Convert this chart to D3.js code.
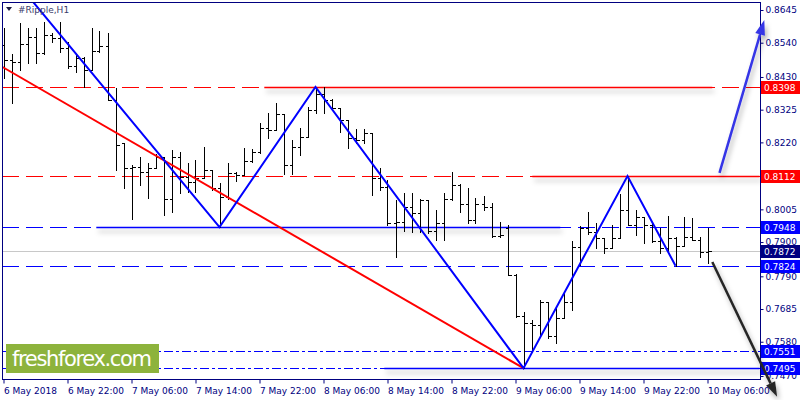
<!DOCTYPE html>
<html><head><meta charset="utf-8">
<script src="https://cdn.jsdelivr.net/npm/d3@7"></script>
<style>
body{margin:0;background:#fff;}
svg{display:block;}
text{font-family:"DejaVu Sans",sans-serif;font-size:9px;}
</style>
</head><body>
<svg id="c" width="800" height="400"></svg>
<script>
// ---------- data ----------
const symbolTitle = "#Ripple,H1";
const timeLabels = ["6 May 2018","6 May 22:00","7 May 06:00","7 May 14:00","7 May 22:00","8 May 06:00","8 May 14:00","8 May 22:00","9 May 06:00","9 May 14:00","9 May 22:00","10 May 06:00"];
const timeLabelBars = [0,8,16,24,32,40,48,56,64,72,80,88];
const priceTicks = [0.8645,0.8540,0.8430,0.8325,0.8220,0.8005,0.7900,0.7790,0.7685,0.7580,0.7470];

const opens  = [0.8533,0.8485,0.8478,0.8536,0.8558,0.8507,0.8565,0.8555,0.8523,0.8465,0.8491,0.8452,0.8513,0.8529,0.8356,0.8218,0.8138,0.8141,0.8125,0.8138,0.8173,0.8038,0.8173,0.8109,0.8093,0.8106,0.8131,0.8074,0.8045,0.8122,0.8115,0.8160,0.8189,0.8266,0.8260,0.8311,0.8147,0.8205,0.8237,0.8324,0.8375,0.8356,0.8330,0.8292,0.8234,0.8228,0.8250,0.8106,0.8077,0.7961,0.7964,0.8013,0.7993,0.8035,0.7936,0.7961,0.8038,0.8083,0.8022,0.7971,0.8022,0.8013,0.7920,0.7945,0.7794,0.7663,0.7640,0.7634,0.7708,0.7598,0.7656,0.7708,0.7884,0.7945,0.7932,0.7913,0.7881,0.7913,0.8003,0.7955,0.7981,0.7955,0.7904,0.7881,0.7913,0.7887,0.7916,0.7907,0.7868];
const highs  = [0.8587,0.8504,0.8603,0.8587,0.8587,0.8606,0.8571,0.8606,0.8542,0.8504,0.8494,0.8587,0.8578,0.8571,0.8395,0.8218,0.8147,0.8173,0.8154,0.8183,0.8173,0.8196,0.8189,0.8154,0.8164,0.8205,0.8131,0.8090,0.8154,0.8125,0.8202,0.8199,0.8282,0.8314,0.8346,0.8311,0.8228,0.8266,0.8334,0.8398,0.8398,0.8359,0.8330,0.8292,0.8263,0.8263,0.8250,0.8138,0.8100,0.8035,0.8058,0.8058,0.8038,0.8035,0.8003,0.8058,0.8125,0.8087,0.8074,0.8041,0.8048,0.8025,0.7964,0.7955,0.7798,0.7676,0.7650,0.7714,0.7708,0.7692,0.7740,0.7904,0.7952,0.7997,0.7961,0.7913,0.7955,0.8054,0.8112,0.8003,0.7981,0.7961,0.7945,0.7984,0.7916,0.7981,0.7977,0.7916,0.7945];
const lows   = [0.8427,0.8346,0.8452,0.8475,0.8475,0.8504,0.8542,0.8510,0.8459,0.8446,0.8398,0.8452,0.8510,0.8356,0.8131,0.8074,0.7974,0.8083,0.8041,0.8138,0.7987,0.7997,0.8058,0.8061,0.8061,0.8106,0.8067,0.7948,0.8038,0.8096,0.8115,0.8157,0.8186,0.8234,0.8260,0.8119,0.8119,0.8180,0.8237,0.8314,0.8314,0.8324,0.8253,0.8202,0.8218,0.8218,0.8051,0.8067,0.7955,0.7852,0.7936,0.7932,0.7932,0.7929,0.7907,0.7907,0.8035,0.7997,0.7961,0.7961,0.8003,0.7916,0.7916,0.7794,0.7660,0.7495,0.7547,0.7595,0.7592,0.7576,0.7656,0.7682,0.7826,0.7926,0.7881,0.7865,0.7881,0.7913,0.7955,0.7923,0.7897,0.7900,0.7865,0.7868,0.7824,0.7887,0.7907,0.7852,0.7833];
const closes = [0.8485,0.8478,0.8536,0.8558,0.8507,0.8565,0.8555,0.8523,0.8465,0.8491,0.8452,0.8513,0.8529,0.8356,0.8212,0.8138,0.8141,0.8125,0.8138,0.8173,0.8038,0.8173,0.8109,0.8093,0.8106,0.8131,0.8074,0.8045,0.8122,0.8115,0.8160,0.8189,0.8266,0.8260,0.8311,0.8147,0.8205,0.8237,0.8324,0.8375,0.8356,0.8330,0.8292,0.8234,0.8228,0.8250,0.8106,0.8077,0.7961,0.7964,0.8013,0.7993,0.8035,0.7936,0.7961,0.8038,0.8083,0.8022,0.7971,0.8022,0.8013,0.7920,0.7923,0.7794,0.7663,0.7640,0.7634,0.7708,0.7598,0.7656,0.7708,0.7884,0.7945,0.7932,0.7913,0.7881,0.7913,0.8003,0.7955,0.7981,0.7955,0.7904,0.7881,0.7913,0.7887,0.7916,0.7907,0.7868,0.7872];

const zigzagBars   = [3.5, 27, 39, 65, 78, 84];
const zigzagPrices = [0.8677, 0.7948, 0.8398, 0.7495, 0.8112, 0.7824];
const trendBars    = [-0.125, 65];
const trendPrices  = [0.8462, 0.7495];

const levelPrices = [0.8398, 0.8112, 0.7948, 0.7824, 0.7551, 0.7495];
const levelColors = ["#ff0000","#ff0000","#0000ff","#0000ff","#0000ff","#0000ff"];
const levelDashes = ["17,7","17,7","17,7","17,7","9,3,3,3","9,3,3,3"];
const currentPrice = 0.7872;

const segFromBars = [32.6, 66.1, 11.6, 47.6];
const segToBars   = [88.6, 94.5, 69.6, 94.5];
const segPrices   = [0.8398, 0.8112, 0.7948, 0.7495];
const segColors   = ["#ff0000","#ff0000","#0000ff","#0000ff"];

const arrowFromBars   = [89.5, 88.6];
const arrowFromPrices = [0.8122, 0.7836];
const arrowToBars     = [95.1, 96.7];
const arrowToPrices   = [0.8613, 0.7403];
const arrowColors     = ["#3434e6", "#262626"];

const labelPrices = [0.8398, 0.8112, 0.7948, 0.7872, 0.7824, 0.7551, 0.7495];
const labelColors = ["#ff0000","#ff0000","#0000ff","#000080","#0000ff","#0000ff","#0000ff"];

const brandText = "freshforex.com";

// ---------- layout ----------
const svg = d3.select("#c");
const L = 2, T = 2, R = 760, B = 379;
const x = d3.scaleLinear().domain([0, 88]).range([3.5, 707.5]);
const y = d3.scaleLinear().domain([0.7470, 0.8645]).range([376, 10]);
const axisColor = "#000080";

svg.append("rect").attr("width", 800).attr("height", 400).attr("fill", "#fff");

const defs = svg.append("defs");
defs.append("clipPath").attr("id", "plot")
  .append("rect").attr("x", L).attr("y", T).attr("width", R - L).attr("height", B - T);
const f = defs.append("filter").attr("id", "sh").attr("filterUnits", "userSpaceOnUse")
  .attr("x", 0).attr("y", 0).attr("width", 800).attr("height", 400);
f.append("feDropShadow").attr("dx", 2).attr("dy", 4).attr("stdDeviation", 2.5)
  .attr("flood-color", "#000").attr("flood-opacity", 0.3);

const plot = svg.append("g").attr("clip-path", "url(#plot)");

// current price line
plot.append("line").attr("x1", L).attr("x2", R)
  .attr("y1", Math.round(y(currentPrice)) + 0.5).attr("y2", Math.round(y(currentPrice)) + 0.5)
  .attr("stroke", "#c8c8c8").attr("stroke-width", 1);

// dashed levels
plot.selectAll("line.lvl").data(levelPrices).join("line").attr("class", "lvl")
  .attr("x1", L).attr("x2", R)
  .attr("y1", d => Math.round(y(d)) + 0.5).attr("y2", d => Math.round(y(d)) + 0.5)
  .attr("stroke", (d, i) => levelColors[i]).attr("stroke-width", 1)
  .attr("stroke-dasharray", (d, i) => levelDashes[i]);

// solid segments with shadow
plot.selectAll("line.seg").data(segPrices).join("line").attr("class", "seg")
  .attr("x1", (d, i) => x(segFromBars[i])).attr("x2", (d, i) => x(segToBars[i]))
  .attr("y1", d => Math.round(y(d)) + 0.5).attr("y2", d => Math.round(y(d)) + 0.5)
  .attr("stroke", (d, i) => segColors[i]).attr("stroke-width", 1.5)
  .attr("filter", "url(#sh)");

// OHLC bars
const bars = plot.append("g").attr("stroke", "#000").attr("stroke-width", 1).attr("shape-rendering", "crispEdges");
opens.forEach((o, i) => {
  const cx = Math.round(x(i)) + 0.5;
  bars.append("line").attr("x1", cx).attr("x2", cx).attr("y1", Math.round(y(highs[i]))).attr("y2", Math.round(y(lows[i])) + 1);
  bars.append("line").attr("x1", cx - 3).attr("x2", cx).attr("y1", Math.round(y(o)) + 0.5).attr("y2", Math.round(y(o)) + 0.5);
  bars.append("line").attr("x1", cx).attr("x2", cx + 3).attr("y1", Math.round(y(closes[i])) + 0.5).attr("y2", Math.round(y(closes[i])) + 0.5);
});

// red trend line
plot.append("line")
  .attr("x1", x(trendBars[0])).attr("y1", y(trendPrices[0]))
  .attr("x2", x(trendBars[1])).attr("y2", y(trendPrices[1]))
  .attr("stroke", "#ff0000").attr("stroke-width", 2);

// zigzag
plot.append("path")
  .attr("d", d3.line().x((d, i) => x(zigzagBars[i])).y(d => y(d))(zigzagPrices))
  .attr("fill", "none").attr("stroke", "#0000ff").attr("stroke-width", 2).attr("stroke-linejoin", "miter");

// frame
const frame = svg.append("g").attr("stroke", axisColor).attr("stroke-width", 1).attr("shape-rendering", "crispEdges");
frame.append("line").attr("x1", L + 0.5).attr("x2", L + 0.5).attr("y1", T).attr("y2", B + 1);
frame.append("line").attr("x1", L).attr("x2", R + 1).attr("y1", T + 0.5).attr("y2", T + 0.5);
frame.append("line").attr("x1", L).attr("x2", R + 1).attr("y1", B + 0.5).attr("y2", B + 0.5);
frame.append("line").attr("x1", R + 0.5).attr("x2", R + 0.5).attr("y1", T).attr("y2", B + 1);

// y axis
const yAxis = svg.append("g").attr("transform", `translate(${R + 0.5},0)`)
  .call(d3.axisRight(y).tickValues(priceTicks).tickFormat(d3.format(".4f")).tickSize(3).tickSizeOuter(0).tickPadding(2));
yAxis.select(".domain").remove();
yAxis.selectAll("line").attr("stroke", axisColor);
yAxis.selectAll("text").attr("fill", axisColor).style("font-family", "DejaVu Sans").style("font-size", "9px");

// x axis
const xAxis = svg.append("g").attr("transform", `translate(0,${B + 0.5})`)
  .call(d3.axisBottom(x).tickValues(timeLabelBars).tickFormat((d, i) => timeLabels[i]).tickSize(4).tickSizeOuter(0).tickPadding(4));
xAxis.select(".domain").remove();
xAxis.selectAll("line").attr("stroke", axisColor);
xAxis.selectAll("text").attr("fill", axisColor).attr("text-anchor", "start").attr("x", 0)
  .style("font-family", "DejaVu Sans").style("font-size", "9px");

// price label boxes
const lab = svg.append("g");
labelPrices.forEach((p, i) => {
  const cy = Math.round(y(p));
  lab.append("rect").attr("x", 761).attr("y", cy - 6).attr("width", 39).attr("height", 13).attr("fill", labelColors[i]);
  lab.append("text").attr("x", 764).attr("y", cy + 4).attr("fill", "#fff").text(d3.format(".4f")(p));
});

// arrows
arrowFromBars.forEach((b, i) => {
  const x1 = x(b), y1 = y(arrowFromPrices[i]), x2 = x(arrowToBars[i]), y2 = y(arrowToPrices[i]);
  const ang = Math.atan2(y2 - y1, x2 - x1), len = 15, hw = 5;
  const bx = x2 - len * Math.cos(ang), by = y2 - len * Math.sin(ang);
  const g = svg.append("g").attr("filter", "url(#sh)");
  g.append("line").attr("x1", x1).attr("y1", y1).attr("x2", bx).attr("y2", by)
    .attr("stroke", arrowColors[i]).attr("stroke-width", 2.5);
  const pts = [[x2, y2],
    [bx + hw * Math.sin(ang), by - hw * Math.cos(ang)],
    [bx - hw * Math.sin(ang), by + hw * Math.cos(ang)]];
  g.append("polygon").attr("points", pts.map(p => p.join(",")).join(" ")).attr("fill", arrowColors[i]);
});

// title
svg.append("path").attr("d", "M6,7 L12,7 L9,11 Z").attr("fill", "#1a1a40");
svg.append("text").attr("x", 18).attr("y", 13).attr("fill", "#3a3a6a").text(symbolTitle);

// brand
svg.append("rect").attr("x", 6).attr("y", 344).attr("width", 153).attr("height", 29).attr("fill", "#8db33c");
svg.append("text").attr("x", 12).attr("y", 366).attr("fill", "#fff")
  .style("font-family", "Verdana, 'DejaVu Sans', sans-serif").style("font-size", "21px")
  .attr("textLength", 140).text(brandText);
</script>
</body></html>
